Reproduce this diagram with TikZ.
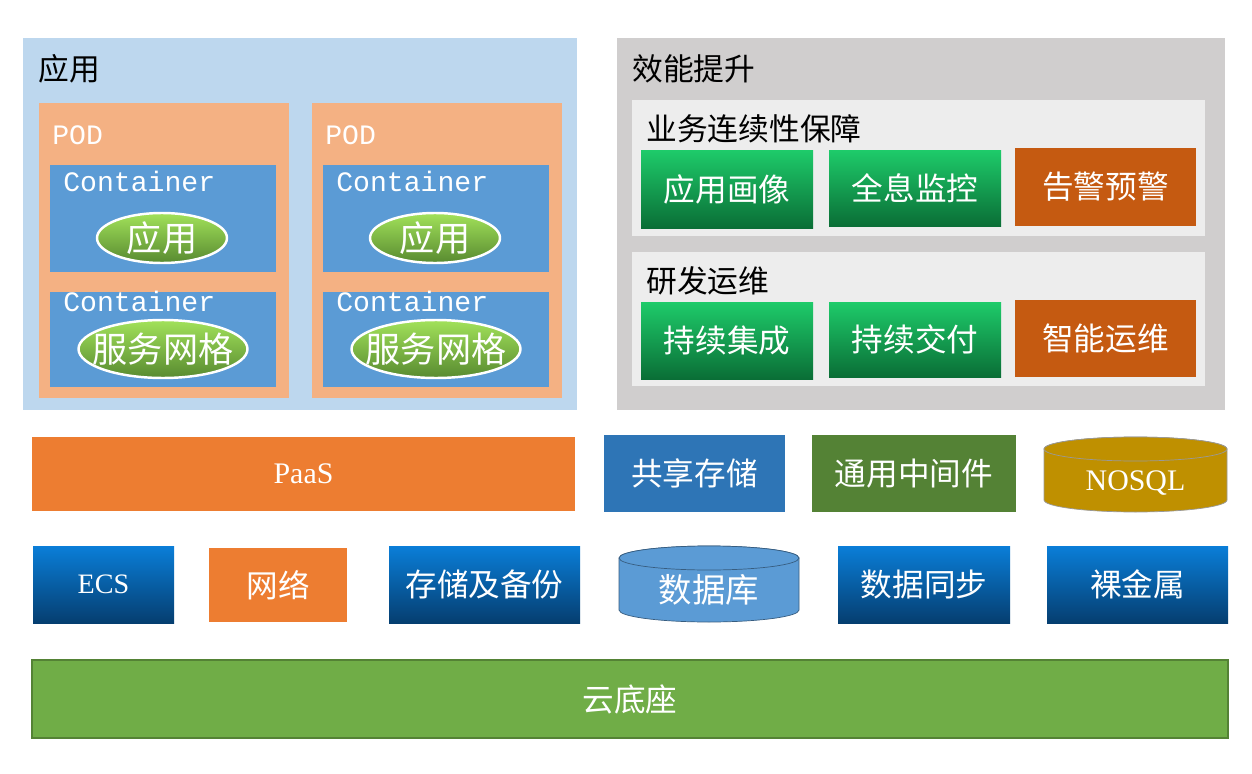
\documentclass[tikz,border=0pt]{standalone}
\usepackage{fontspec}
\setmainfont{Liberation Serif}
\newfontfamily\cjk{Noto Sans CJK SC}
\newfontfamily\mono{Liberation Mono}
\usetikzlibrary{shapes.geometric}
\definecolor{lblue}{HTML}{BDD7EE}
\definecolor{pod}{HTML}{F4B183}
\definecolor{cont}{HTML}{5B9BD5}
\definecolor{gray1}{HTML}{D0CECE}
\definecolor{gray2}{HTML}{EDEDED}
\definecolor{rust}{HTML}{C55A11}
\definecolor{orng}{HTML}{ED7D31}
\definecolor{mblue}{HTML}{2E75B6}
\definecolor{dgreen}{HTML}{548235}
\definecolor{gold}{HTML}{BF9000}
\definecolor{lgreen}{HTML}{70AD47}
\definecolor{gtop}{HTML}{1ECB6A}
\definecolor{gbot}{HTML}{0A6E36}
\definecolor{btop}{HTML}{0A7ED8}
\definecolor{bbot}{HTML}{053E70}
\definecolor{etop}{HTML}{A2E25A}
\definecolor{ebot}{HTML}{588A30}
\newcommand\bxx[7]{\node[#6,minimum width={((#4)-(#2))*0.02cm},minimum height={((#5)-(#3))*0.02cm}] (#1) at ({((#2)+(#4))/2},{((#3)+(#5))/2}) {#7};}
\tikzset{
 x=0.02cm,y=-0.02cm,
 bx/.style={rectangle,inner sep=0pt,draw=none,text=white,font=\cjk\fontsize{18}{21}\selectfont},
 pane/.style={rectangle,inner sep=0pt,draw=none},
 lbl/.style={anchor=west,inner sep=0pt,font=\cjk\fontsize{17.5}{20}\selectfont},
 wlbl/.style={anchor=west,inner sep=0pt,text=white,font=\mono\fontsize{16}{18}\selectfont},
 grn/.style={bx,top color=gtop,bottom color=gbot},
 blu/.style={bx,top color=btop,bottom color=bbot},
 ell/.style={ellipse,draw=white,line width=1.4pt,top color=etop,bottom color=ebot,inner sep=0pt,text=white,font=\cjk\fontsize{20}{23}\selectfont},
}
\begin{document}
\begin{tikzpicture}
\useasboundingbox[fill=white] (0,0) rectangle (1252,774);
% left panel
\bxx{app}{23}{38}{577}{410}{pane,fill=lblue}{}
\node[lbl] (appl) at (38,69) {应用};
\foreach \i/\dx in {1/0,2/273}{
 \bxx{pod\i}{39+\dx}{103}{289+\dx}{398}{pane,fill=pod}{}
 \node[wlbl,font=\mono\fontsize{16}{18}\selectfont] (podl\i) at (52+\dx,135) {POD};
 \bxx{ca\i}{50+\dx}{165}{276+\dx}{272}{pane,fill=cont}{}
 \node[wlbl] (cal\i) at (63+\dx,181) {Container};
 \node[ell,minimum width=2.6cm,minimum height=1cm] (ea\i) at (162+\dx,238) {应用};
 \bxx{cb\i}{50+\dx}{292}{276+\dx}{387}{pane,fill=cont}{}
 \node[wlbl] (cbl\i) at (63+\dx,301) {Container};
 \node[ell,minimum width=3.2cm,minimum height=1.16cm,inner xsep=-6pt] (eb\i) at (163+\dx,349) {服务网格};
}
% right panel
\bxx{eff}{617}{38}{1225}{410}{pane,fill=gray1}{}
\node[lbl] (effl) at (632,69) {效能提升};
\bxx{biz}{632}{100}{1205}{236}{pane,fill=gray2}{}
\node[lbl] (bizl) at (646,129) {业务连续性保障};
\bxx{b1}{641}{150}{813}{228}{grn}{应用画像}
\bxx{b2}{829}{150}{1001}{226}{grn}{全息监控}
\bxx{b3}{1015}{148}{1196}{226}{bx,fill=rust}{告警预警}
\bxx{dev}{632}{252}{1205}{386}{pane,fill=gray2}{}
\node[lbl] (devl) at (646,281) {研发运维};
\bxx{d1}{641}{302}{813}{379}{grn}{持续集成}
\bxx{d2}{829}{302}{1001}{377}{grn}{持续交付}
\bxx{d3}{1015}{300}{1196}{377}{bx,fill=rust}{智能运维}
% middle row
\bxx{paas}{32}{437}{575}{511}{bx,fill=orng,font=\fontsize{17}{20}\selectfont}{PaaS}
\bxx{share}{604}{435}{785}{512}{bx,fill=mblue}{共享存储}
\bxx{mid}{812}{435}{1016}{512}{bx,fill=dgreen}{通用中间件}
\path[fill=gold,draw=gray!80] (1044,449) -- (1044,500) arc[x radius=91.5,y radius=12,start angle=180,end angle=0] -- (1227,449) arc[x radius=91.5,y radius=12,start angle=0,end angle=-180] -- cycle;
\draw[gray!80,fill=gold] (1135.5,449) ellipse[x radius=91.5,y radius=12];
\node[text=white,font=\fontsize{17}{20}\selectfont] (nosql) at (1135.5,483) {NOSQL};
% lower row
\bxx{ecs}{33}{546}{174}{623}{blu,font=\fontsize{16}{19}\selectfont}{ECS}
\bxx{net}{209}{548}{347}{622}{bx,fill=orng}{网络}
\bxx{stor}{389}{546}{580}{623}{blu}{存储及备份}
\path[fill=cont,draw=cont!60!black] (619,558) -- (619,610) arc[x radius=90,y radius=12,start angle=180,end angle=0] -- (799,558) arc[x radius=90,y radius=12,start angle=0,end angle=-180] -- cycle;
\draw[cont!60!black,fill=cont] (709,558) ellipse[x radius=90,y radius=12];
\node[text=white,font=\cjk\fontsize{19}{22}\selectfont] (db) at (709,590) {数据库};
\bxx{sync}{838}{546}{1010}{623}{blu}{数据同步}
\bxx{bare}{1047}{546}{1228}{623}{blu}{裸金属}
% base
\bxx{base}{32}{660}{1228}{738}{bx,fill=lgreen,draw=dgreen,line width=0.8pt}{云底座}
\end{tikzpicture}
\end{document}
